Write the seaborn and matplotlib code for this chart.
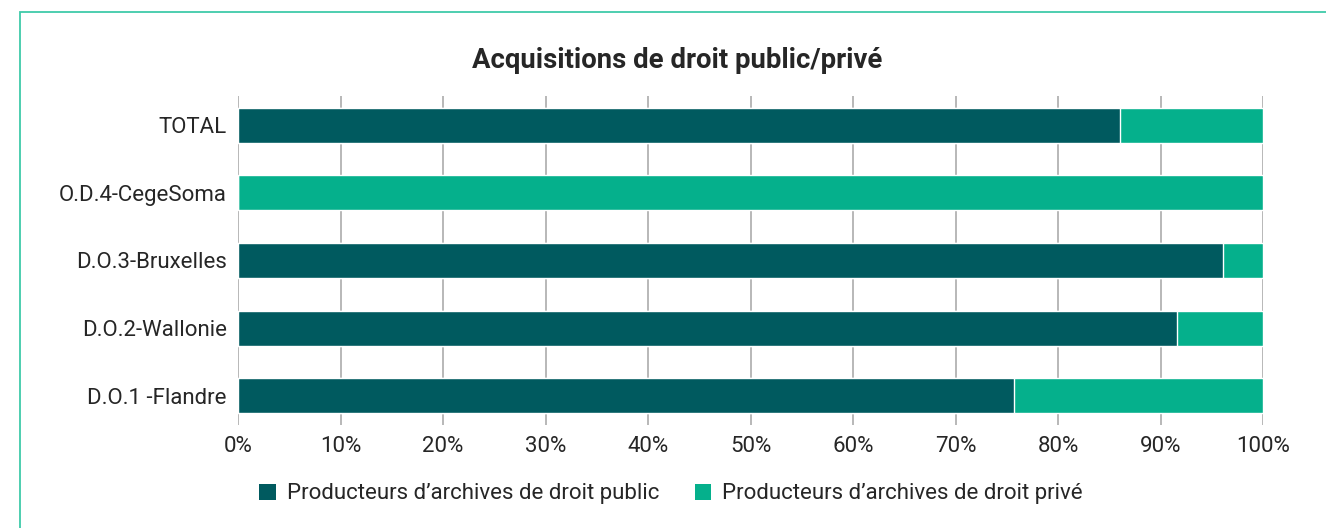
import matplotlib
matplotlib.use("Agg")
import matplotlib.pyplot as plt
import seaborn as sns
import pandas as pd
from matplotlib.patches import Rectangle, Patch
from matplotlib.ticker import PercentFormatter

categories = ["TOTAL", "O.D.4-CegeSoma", "D.O.3-Bruxelles", "D.O.2-Wallonie", "D.O.1 -Flandre"]
public_pct = [86.0, 0.0, 96.1, 91.6, 75.7]
private_pct = [14.0, 100.0, 3.9, 8.4, 24.3]
series_names = ["Producteurs d\u2019archives de droit public", "Producteurs d\u2019archives de droit privé"]
title = "Acquisitions de droit public/privé"

dark = "#005a5f"
light = "#05b08c"
text_col = "#262626"

sns.set_theme(style="white")
plt.rcParams['font.family'] = ['Roboto', 'DejaVu Sans']

df = pd.DataFrame({"cat": categories, "public": public_pct, "private": private_pct})
df["total"] = df["public"] + df["private"]

fig = plt.figure(figsize=(13.26, 5.28), dpi=100)
W, H = 1326, 528
ax = fig.add_axes([238 / W, 1 - 425 / H, (1263 - 238) / W, (425 - 96) / H])

sns.barplot(data=df, x="total", y="cat", color=light, orient="h", width=0.52, ax=ax, saturation=1)
sns.barplot(data=df, x="public", y="cat", color=dark, orient="h", width=0.52, ax=ax, saturation=1)

ax.set_xlim(0, 100)
ax.set_ylim(4.43, -0.43)
ax.set_xticks(range(0, 101, 10))
ax.xaxis.set_major_formatter(PercentFormatter(decimals=0))
ax.grid(axis="x", color="#b8b8b8", linewidth=1.4)
ax.set_axisbelow(True)
for s in ax.spines.values():
    s.set_visible(False)
ax.set_xlabel("")
ax.set_ylabel("")
ax.tick_params(axis="both", length=0, labelsize=16, labelcolor=text_col)
ax.tick_params(axis="x", pad=8)
ax.tick_params(axis="y", pad=8)

fig.text(0.511, 1 - 61 / H, title, ha="center", va="center", fontsize=19.8,
         fontweight="bold", color=text_col)

handles = [Patch(facecolor=dark, edgecolor="none"), Patch(facecolor=light, edgecolor="none")]
fig.legend(handles, series_names, loc="center", bbox_to_anchor=(0.506, 1 - 494 / H), ncol=2,
           frameon=False, fontsize=16, handlelength=0.75, handleheight=0.75,
           handletextpad=0.5, columnspacing=1.6, labelcolor=text_col)

border = Rectangle((20 / W, -0.05), 1.1, 1 - 12 / H + 0.05, transform=fig.transFigure,
                   fill=False, edgecolor="#3fcaa9", linewidth=1.3, clip_on=False)
fig.patches.append(border)

fig.savefig("out.png", dpi=100)
